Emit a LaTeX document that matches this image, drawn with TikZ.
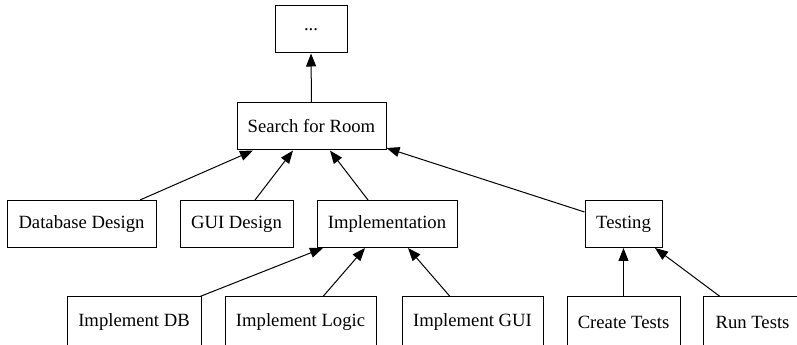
\documentclass[tikz,border=0pt]{standalone}
\usepackage{fontspec}
\setmainfont{Liberation Serif}
\usetikzlibrary{arrows.meta}
\begin{document}
\begin{tikzpicture}[x=0.75pt,y=-0.75pt,
  task/.style={draw,line width=0.75pt,rectangle,minimum height=35.25pt,inner sep=0pt,
    font=\fontsize{14}{16}\selectfont},
  low/.style={task,minimum height=37.5pt},
  edge/.style={line width=0.75pt,-{Triangle[length=9.75pt,width=7.5pt]}}]
\useasboundingbox (0,0) rectangle (797,345);
\clip (0,0) rectangle (797,345);
% task hierarchy
\node[task,minimum width=54pt]    (top) at (311,29.5)    {...};
\node[task,minimum width=111.75pt](sr)  at (311.5,126.5) {Search for Room};
\node[task,minimum width=111.75pt](dd)  at (81.5,224)    {Database Design};
\node[task,minimum width=84.75pt] (gd)  at (236.5,224)   {GUI Design};
\node[task,minimum width=105pt]   (im)  at (387,224)     {Implementation};
\node[task,minimum width=57.75pt] (te)  at (623.5,224)   {Testing};
\node[low,minimum width=100.5pt]  (idb) at (134,322)     {Implement DB};
\node[low,minimum width=113.25pt] (il)  at (300.5,322)   {Implement Logic};
\node[low,minimum width=105.75pt] (ig)  at (472.5,322)   {Implement GUI};
\node[low,minimum width=84.75pt]  (ct)  at (623.5,322)   {Create Tests};
\node[low,minimum width=73pt]     (rt)  at (752.5,322)   {Run Tests};
% subtask -> parent links
\draw[edge] (sr.north) -- (top.south);
\draw[edge] (dd.north -| 140,0) -- (sr.south -| 253,0);
\draw[edge] (gd.north -| 255,0) -- (sr.south -| 293,0);
\draw[edge] (im.north -| 368,0) -- (sr.south -| 330,0);
\draw[edge] (te.west |- 0,212) -- (sr.east |- 0,148);
\draw[edge] (idb.north -| 200,0) -- (im.south -| 323,0);
\draw[edge] (il.north -| 323,0) -- (im.south -| 365,0);
\draw[edge] (ig.north -| 450,0) -- (im.south -| 408,0);
\draw[edge] (ct.north) -- (te.south);
\draw[edge] (rt.north -| 720,0) -- (te.south -| 655,0);
\end{tikzpicture}
\end{document}
